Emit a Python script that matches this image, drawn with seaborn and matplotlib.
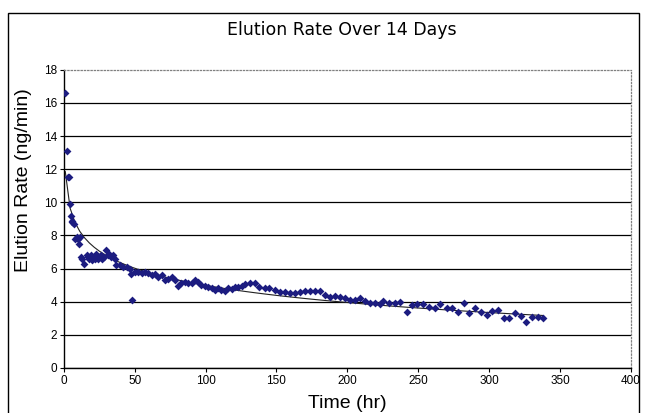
import matplotlib
matplotlib.use("Agg")
import matplotlib.pyplot as plt
from matplotlib.patches import Rectangle
import pandas as pd
import seaborn as sns

# values
time_hr = [1, 2, 3, 3.5, 4, 5, 5.5, 6, 7, 8, 9, 10, 10.5, 11.5, 12, 13, 14,
           16, 17, 18, 19, 20, 21, 22, 23, 24, 25, 26, 27, 28, 30, 31, 32, 33,
           34.5, 36, 37, 39.5, 41.8, 44.2, 46.6, 47.7, 48.4, 50.1, 52.4, 54.8,
           57.1, 59.5, 61.9, 64.2, 66.5, 68.9, 71.3, 73.6, 76, 78.3, 80.6, 83,
           85.4, 87.7, 90.1, 92.4, 94.8, 97.1, 99.5, 101.8, 104.2, 106.5,
           108.9, 111.2, 113.6, 115.9, 118.3, 120.6, 123, 125.4, 127.7, 131,
           134.7, 138, 141.8, 145, 148.9, 152.4, 155.9, 159.4, 163, 166.5, 170,
           173.5, 177, 180.6, 184.1, 187.7, 191.2, 194.7, 198.2, 201.8, 205.3,
           208.8, 212.3, 215.9, 219.4, 222.9, 225.3, 229.5, 233.5, 237.5,
           241.8, 245.7, 249.5, 253.5, 257.5, 261.7, 265.7, 270, 273.9, 278,
           282.2, 285.9, 290.4, 294.4, 298.2, 302.2, 306.2, 310.2, 314.2,
           318.2, 322.2, 326.4, 330.2, 334.2, 338.1]
rate = [16.6, 13.1, 11.5, 11.5, 9.9, 9.2, 8.9, 8.8, 8.7, 7.8, 7.9, 7.8, 7.5,
        7.9, 6.7, 6.6, 6.3, 6.8, 6.7, 6.6, 6.8, 6.5, 6.7, 6.6, 6.9, 6.6, 6.7,
        6.8, 6.6, 6.7, 7.1, 6.8, 6.9, 6.7, 6.8, 6.6, 6.2, 6.2, 6.1, 6.1, 6.0,
        5.7, 4.1, 5.8, 5.8, 5.75, 5.8, 5.75, 5.6, 5.7, 5.5, 5.6, 5.3, 5.4,
        5.5, 5.3, 4.95, 5.1, 5.2, 5.1, 5.1, 5.3, 5.2, 5.0, 4.95, 4.9, 4.8,
        4.7, 4.8, 4.7, 4.65, 4.8, 4.75, 4.9, 4.9, 4.95, 5.05, 5.15, 5.1, 4.9,
        4.8, 4.85, 4.7, 4.6, 4.6, 4.5, 4.5, 4.6, 4.65, 4.65, 4.65, 4.65, 4.4,
        4.3, 4.35, 4.3, 4.2, 4.1, 4.1, 4.2, 4.05, 3.95, 3.95, 3.85, 4.05, 3.9,
        3.95, 4.0, 3.4, 3.8, 3.85, 3.85, 3.7, 3.6, 3.85, 3.65, 3.65, 3.4, 3.9,
        3.3, 3.6, 3.4, 3.2, 3.45, 3.5, 3.0, 3.0, 3.3, 3.15, 2.8, 3.1, 3.1, 3.0]

x_ticks = list(range(0, 401, 50))
y_ticks = list(range(0, 19, 2))

df = pd.DataFrame({"time": time_hr, "rate": rate})

sns.set_style("white")
plt.rcParams["font.family"] = ["Liberation Sans", "DejaVu Sans"]
plt.rcParams["text.color"] = "black"
plt.rcParams["axes.labelcolor"] = "black"

fig = plt.figure(figsize=(6.45, 4.13), dpi=100)
ax = fig.add_axes([0.099, 0.109, 0.879, 0.722])

# logarithmic trend line, like excel's
sns.regplot(data=df, x="time", y="rate", logx=True, ci=None, scatter=False,
            color="#222222", line_kws={"lw": 0.8}, ax=ax)
sns.scatterplot(data=df, x="time", y="rate", marker="D", s=16,
                color="#1c1c80", linewidth=0, ax=ax, zorder=3)

ax.set_xlim(0, 400)
ax.set_ylim(0, 18)
ax.set_xticks(x_ticks)
ax.set_yticks(y_ticks)
ax.yaxis.grid(True, color="black", lw=0.9)
ax.get_ygridlines()[-1].set_visible(False)
ax.set_axisbelow(True)

for s in ["top", "right"]:
    ax.spines[s].set(color="gray", linestyle=":", lw=0.9)
for s in ["left", "bottom"]:
    ax.spines[s].set(color="black", lw=1)
ax.tick_params(bottom=True, left=True, direction="out", length=3, width=0.8,
               colors="black", labelsize=8.5, pad=2)

ax.set_xlabel("Time (hr)", fontsize=14, va="center")
ax.xaxis.set_label_coords(0.5, -0.118)
ax.set_ylabel("Elution Rate (ng/min)", fontsize=14, va="center")
ax.yaxis.set_label_coords(-0.072, 0.63)
ax.set_title("Elution Rate Over 14 Days", x=0.49, y=1.107, va="center",
             fontsize=12.5, family="DejaVu Sans", color="black")

# chart area border
fig.patches.append(Rectangle((8 / 645, -0.05), 631 / 645, 0.9685 + 0.05,
                             transform=fig.transFigure, fill=False,
                             ec="black", lw=1))

fig.savefig("out.png", dpi=100)
